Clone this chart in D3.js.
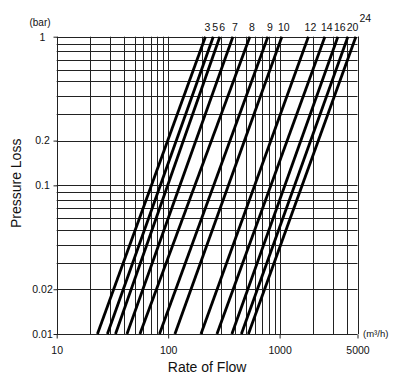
<!DOCTYPE html>
<html>
<head>
<meta charset="utf-8">
<script src="https://cdn.jsdelivr.net/npm/d3@7"></script>
<style>
  html, body { margin: 0; padding: 0; background: #fff; }
  svg { display: block; }
  text { font-family: "Liberation Sans", Arial, sans-serif; fill: #111; }
</style>
</head>
<body>
<svg id="chart" width="417" height="380"></svg>
<script>
// ---- data ----
const sizes = ["3", "5", "6", "7", "8", "9", "10", "12", "14", "16", "20", "24"];
// flow rate (m3/h) at 0.01 bar and at 1 bar pressure loss
const flowAtLow  = [23.2, 28.5, 33.7, 42.7, 55.8, 83.6, 115, 197, 274, 373, 454, 525];
const flowAtHigh = [216, 254, 291, 381, 541, 785, 1048, 1813, 2548, 3334, 4099, 4834];
const lowLoss = 0.01, highLoss = 1;
const xTickLabels = [10, 100, 1000, 5000];
const yTickLabels = [1, 0.2, 0.1, 0.02, 0.01];
const xDomain = [10, 5000];
const yDomain = [0.01, 1];

// ---- layout ----
const svg = d3.select("#chart");
const pLeft = 56.7, pRight = 357.5, pTop = 36.7, pBottom = 334;

const x = d3.scaleLog().domain(xDomain).range([pLeft, pRight]);
const y = d3.scaleLog().domain(yDomain).range([pBottom, pTop]);

// grid values
const xGrid = [];
[10, 100, 1000].forEach(d => { for (let k = 1; k <= 9; k++) { const v = d * k; if (v <= 5000) xGrid.push(v); } });
xGrid.push(5000);
const yGrid = [];
[0.01, 0.1].forEach(d => { for (let k = 1; k <= 9; k++) yGrid.push(+(d * k).toFixed(3)); });
yGrid.push(1);

const g = svg.append("g");

g.selectAll("line.vx").data(xGrid).enter().append("line")
  .attr("x1", d => Math.round(x(d)) + 0.5).attr("x2", d => Math.round(x(d)) + 0.5)
  .attr("y1", pTop).attr("y2", pBottom)
  .attr("stroke", "#222").attr("stroke-width", 1);

g.selectAll("line.hy").data(yGrid).enter().append("line")
  .attr("y1", d => Math.round(y(d)) + 0.5).attr("y2", d => Math.round(y(d)) + 0.5)
  .attr("x1", pLeft).attr("x2", pRight)
  .attr("stroke", "#222").attr("stroke-width", 1);

// axes (ticks + labels)
const xAxis = d3.axisBottom(x).tickValues(xTickLabels).tickFormat(d3.format("d")).tickSize(4).tickSizeOuter(0);
const xa = svg.append("g").attr("transform", `translate(0,${Math.round(pBottom) + 0.5})`).call(xAxis);
xa.select(".domain").remove();
xa.selectAll(".tick line").attr("stroke", "#222");
xa.selectAll(".tick text").attr("font-size", 10.5).attr("dy", "1.2em")
  .style("font-family", '"Liberation Sans", Arial, sans-serif').attr("fill", "#111");

const yAxis = d3.axisLeft(y).tickValues(yTickLabels).tickFormat(d => d === 1 ? "1" : String(d)).tickSize(4).tickSizeOuter(0);
const ya = svg.append("g").attr("transform", `translate(${Math.round(pLeft) + 0.5},0)`).call(yAxis);
ya.select(".domain").remove();
ya.selectAll(".tick line").attr("stroke", "#222");
ya.selectAll(".tick text").attr("font-size", 10.5).attr("text-anchor", "middle").attr("x", -15)
  .style("font-family", '"Liberation Sans", Arial, sans-serif').attr("fill", "#111");

// curves
const lineGen = d3.line().x(d => x(d[0])).y(d => y(d[1]));
sizes.forEach((s, i) => {
  g.append("path")
    .attr("d", lineGen([[flowAtLow[i], lowLoss], [flowAtHigh[i], highLoss]]))
    .attr("stroke", "#000").attr("stroke-width", 2.8).attr("fill", "none");
});

// size labels: placed above each line's top end, pushed right to avoid overlap
const labels = svg.selectAll("text.size").data(sizes).enter().append("text")
  .attr("class", "size")
  .attr("text-anchor", "middle").attr("font-size", 10.5)
  .text(d => d);
let prevRight = -Infinity;
labels.each(function (d, i) {
  const node = d3.select(this);
  const w = this.getComputedTextLength();
  const last = i === sizes.length - 1;
  let cx = x(flowAtHigh[i]) + 2;
  if (cx - w / 2 < prevRight + 1) cx = prevRight + 1 + w / 2;
  node.attr("x", cx).attr("y", last ? 21.5 : 30.5);
  prevRight = cx + w / 2;
});

// unit labels
svg.append("text").attr("x", 40).attr("y", 26).attr("text-anchor", "middle").attr("font-size", 10).text("(bar)");
svg.append("text").attr("x", 363).attr("y", 337).attr("font-size", 9.5).text("(m³/h)");

// axis titles
svg.append("text").attr("x", (pLeft + pRight) / 2).attr("y", 372).attr("text-anchor", "middle")
  .attr("font-size", 14).text("Rate of Flow");
svg.append("text").attr("transform", `translate(21,${(pTop + pBottom) / 2 - 2}) rotate(-90)`)
  .attr("text-anchor", "middle").attr("font-size", 14).text("Pressure Loss");
</script>
</body>
</html>
